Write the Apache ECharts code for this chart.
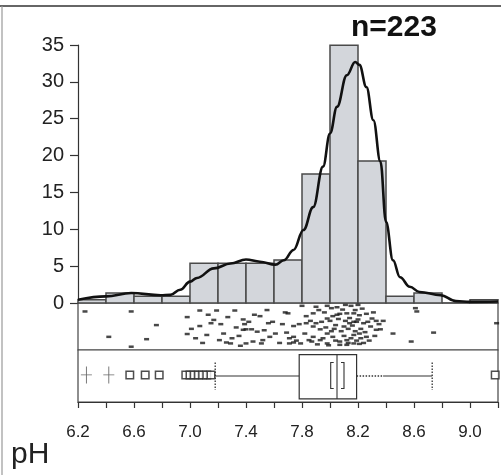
<!DOCTYPE html>
<html>
<head>
<meta charset="utf-8">
<script src="https://cdn.jsdelivr.net/npm/echarts@6/dist/echarts.min.js"></script>
<style>
  html, body { margin: 0; padding: 0; background: #fff; }
  #main { width: 501px; height: 475px; }
</style>
</head>
<body>
<div id="main"></div>
<script>
var FONT = '"Liberation Sans", Arial, sans-serif';

// histogram bins (pH) and percent of samples, n = 223
var binStart = [6.2, 6.4, 6.6, 6.8, 7.0, 7.2, 7.4, 7.6, 7.8, 8.0, 8.2, 8.4, 8.6, 8.8, 9.0];
var binPct   = [0.45, 1.35, 0.9, 0.9, 5.38, 5.38, 5.38, 5.83, 17.49, 34.98, 19.28, 0.9, 1.35, 0, 0.45];
var binWidth = 0.2;

// smooth density curve
var curveX = [6.2, 6.4, 6.58, 6.79, 6.86, 6.93, 7.0, 7.05, 7.17, 7.29, 7.4, 7.5, 7.61, 7.67, 7.74,
              7.81, 7.88, 7.95, 8.0, 8.05, 8.12, 8.18, 8.21, 8.26, 8.31, 8.36, 8.4, 8.45, 8.5,
              8.57, 8.64, 8.79, 8.9, 9.0, 9.2];
var curveY = [0.45, 0.9, 1.35, 1.05, 1.1, 1.8, 2.9, 3.4, 4.7, 5.35, 5.9, 5.6, 5.2, 5.8, 7.2,
              9.9, 13, 18.5, 23, 26.6, 30.9, 32.7, 32.3, 29.3, 24.8, 19.2, 11, 5.8, 3.5,
              2.2, 1.5, 1.05, 0.25, 0.15, 0.2];

// jittered points in the middle strip: pH and vertical jitter (0..1)
var rugX = [6.25, 6.58, 6.42, 6.76, 6.69, 6.58, 6.98, 7.07, 7.19, 7.32, 6.98, 7.04, 7.12, 7.07, 7.15,
            7.17, 7.21, 7.26, 7.29, 7.30, 7.38, 7.39, 7.38, 7.40, 7.44, 7.48, 7.50, 7.56, 7.52, 7.51,
            7.57, 7.40, 7.36, 7.70, 7.74, 7.69, 7.71, 7.71, 7.74, 7.79, 7.80, 7.83, 7.88, 7.90, 7.98,
            8.01, 8.05, 8.11, 8.15, 8.20, 7.90, 7.94, 7.98, 8.02, 8.07, 8.12, 8.17, 8.21, 8.26, 8.30,
            8.33, 8.38, 7.83, 7.88, 7.93, 7.98, 8.04, 8.10, 8.14, 8.19, 8.24, 8.29, 8.33, 7.88, 7.93,
            7.98, 8.02, 8.07, 8.12, 8.17, 8.21, 8.26, 8.17, 8.21, 8.12, 8.07, 7.74, 7.85, 7.87, 8.36,
            8.45, 8.58, 8.61, 8.62, 8.74, 9.19,
            7.92, 7.96, 8.00, 8.03, 8.06, 8.08, 8.09, 8.10, 8.13, 8.14, 8.15, 8.16, 8.18, 8.18, 8.19,
            8.20, 8.22, 8.23, 8.24, 8.25, 8.27, 8.28, 8.31, 8.32, 8.35, 7.95, 7.97, 7.99, 8.01, 8.04,
            7.86, 7.82, 7.78, 7.76, 7.91, 8.11, 8.13, 8.17, 8.22, 8.05,
            7.01, 7.09, 7.13, 7.22, 7.24, 7.27, 7.33, 7.35, 7.42, 7.45, 7.46, 7.53, 7.55, 7.59, 7.61,
            7.64, 7.66, 7.68];
var rugJ = [0.82, 0.82, 0.28, 0.53, 0.23, 0.07, 0.70, 0.84, 0.84, 0.84, 0.34, 0.25, 0.32, 0.51, 0.57,
            0.64, 0.21, 0.16, 0.14, 0.25, 0.65, 0.55, 0.43, 0.44, 0.44, 0.39, 0.72, 0.57, 0.21, 0.14,
            0.28, 0.14, 0.09, 0.78, 0.51, 0.37, 0.25, 0.14, 0.16, 0.14, 0.94, 0.72, 0.78, 0.92, 0.94,
            0.89, 0.91, 0.96, 0.94, 0.96, 0.57, 0.60, 0.67, 0.72, 0.77, 0.78, 0.78, 0.74, 0.77, 0.67,
            0.62, 0.62, 0.57, 0.50, 0.44, 0.35, 0.53, 0.50, 0.57, 0.60, 0.57, 0.50, 0.43, 0.28, 0.21,
            0.14, 0.28, 0.18, 0.21, 0.32, 0.35, 0.28, 0.14, 0.13, 0.11, 0.11, 0.28, 0.21, 0.18, 0.44,
            0.35, 0.18, 0.89, 0.82, 0.37, 0.57,
            0.85, 0.80, 0.62, 0.45, 0.66, 0.40, 0.86, 0.30, 0.45, 0.68, 0.25, 0.52, 0.40, 0.85, 0.20,
            0.65, 0.45, 0.88, 0.15, 0.38, 0.60, 0.20, 0.80, 0.30, 0.55, 0.25, 0.48, 0.10, 0.40, 0.20,
            0.62, 0.35, 0.55, 0.20, 0.12, 0.62, 0.15, 0.60, 0.25, 0.75,
            0.45, 0.15, 0.75, 0.55, 0.35, 0.70, 0.48, 0.30, 0.60, 0.18, 0.75, 0.42, 0.85, 0.60, 0.35,
            0.15, 0.55, 0.80];

// box plot: whisker low, q1, median, q3, whisker high, median bracket
var boxStats = [7.18, 7.78, 8.05, 8.19, 8.73];
var medianBracket = [8.005, 8.10];
var outliers = [6.57, 6.68, 6.78, 6.97, 7.0, 7.03, 7.06, 7.09, 7.12, 7.15, 9.18];
var farOutliers = [6.26, 6.42];

var xTicks = { min: 6.2, max: 9.2, interval: 0.2 };
var yTicks = { min: 0, max: 35, interval: 5 };

var myChart = echarts.init(document.getElementById('main'));

var histData = binStart.map(function (s, i) { return [s, s + binWidth, binPct[i]]; });
var curveData = curveX.map(function (x, i) { return [x, curveY[i]]; });
var rugData = rugX.map(function (x, i) { return [x, rugJ[i]]; });

function xAxisBase(idx, showLabels) {
    return {
        gridIndex: idx, type: 'value',
        min: xTicks.min, max: xTicks.max, interval: xTicks.interval,
        splitLine: { show: false },
        axisLine: { show: showLabels, onZero: false, lineStyle: { color: '#333', width: 1.2 } },
        axisTick: { show: showLabels, length: 6, lineStyle: { color: '#333', width: 1.2 } },
        axisLabel: {
            show: showLabels, interval: 0, margin: 22,
            color: '#222', fontFamily: FONT, fontSize: 17,
            formatter: function (v) {
                var k = Math.round((v - 6.2) * 10);
                return (k % 4 === 0 && v < 9.1) ? v.toFixed(1) : '';
            }
        }
    };
}

option = {
    backgroundColor: '#fff',
    animation: false,
    title: {
        text: 'n=223', left: 346, top: 8,
        textStyle: { fontFamily: FONT, fontSize: 30, fontWeight: 'bold', color: '#111' }
    },
    grid: [
        { left: 78, top: 45, width: 420, height: 258 },
        { left: 78, top: 303, width: 420, height: 47, show: true, borderColor: '#444', borderWidth: 1.2, backgroundColor: '#fff' },
        { left: 78, top: 350, width: 420, height: 52, show: true, borderColor: '#444', borderWidth: 1.2, backgroundColor: '#fff' }
    ],
    xAxis: [xAxisBase(0, false), xAxisBase(1, false), xAxisBase(2, true)],
    yAxis: [
        {
            gridIndex: 0, type: 'value', min: yTicks.min, max: yTicks.max, interval: yTicks.interval,
            splitLine: { show: false },
            axisLine: { show: true, lineStyle: { color: '#333', width: 1.2 } },
            axisTick: { show: true, length: 8, lineStyle: { color: '#333', width: 1.2 } },
            axisLabel: { margin: 14, color: '#222', fontFamily: FONT, fontSize: 20 }
        },
        { gridIndex: 1, type: 'value', min: 0, max: 1, show: false },
        { gridIndex: 2, type: 'value', min: 0, max: 1, show: false }
    ],
    series: [
        {
            type: 'custom', xAxisIndex: 0, yAxisIndex: 0, data: histData, z: 2,
            renderItem: function (params, api) {
                var p0 = api.coord([api.value(0), api.value(2)]);
                var p1 = api.coord([api.value(1), 0]);
                return {
                    type: 'rect',
                    shape: { x: p0[0], y: p0[1], width: p1[0] - p0[0], height: p1[1] - p0[1] },
                    style: { fill: '#d3d6db', stroke: '#4a4a4a', lineWidth: 1.5 }
                };
            }
        },
        {
            type: 'line', xAxisIndex: 0, yAxisIndex: 0, data: curveData, z: 3,
            smooth: 0.4, smoothMonotone: 'x', showSymbol: false,
            lineStyle: { color: '#111', width: 2.6 }
        },
        {
            type: 'scatter', xAxisIndex: 1, yAxisIndex: 1, data: rugData,
            symbol: 'rect', symbolSize: [5, 2.5],
            itemStyle: { color: '#1a1a1a' }
        },
        {
            type: 'custom', xAxisIndex: 2, yAxisIndex: 2, data: [boxStats.concat(medianBracket)], z: 3,
            renderItem: function (params, api) {
                var v = [0, 1, 2, 3, 4, 5, 6].map(function (i) { return api.value(i); });
                var lo = api.coord([v[0], 0.5]), q1 = api.coord([v[1], 0.5]), md = api.coord([v[2], 0.5]);
                var q3 = api.coord([v[3], 0.5]), hi = api.coord([v[4], 0.5]);
                var bTop = api.coord([v[1], 0.91])[1], bBot = api.coord([v[1], 0.06])[1];
                var cTop = api.coord([v[0], 0.76])[1], cBot = api.coord([v[0], 0.23])[1];
                var kTop = api.coord([v[5], 0.76])[1], kBot = api.coord([v[5], 0.26])[1];
                var k0 = api.coord([v[5], 0.5])[0], k1 = api.coord([v[6], 0.5])[0];
                var y = lo[1];
                var s = { stroke: '#333', lineWidth: 1.1, fill: null };
                var dot = { stroke: '#333', lineWidth: 1.3, lineDash: [1.5, 1.5], fill: null };
                var mid = q3[0] + (hi[0] - q3[0]) * 0.35;
                return {
                    type: 'group',
                    children: [
                        { type: 'line', shape: { x1: lo[0], y1: y, x2: q1[0], y2: y }, style: s },
                        { type: 'line', shape: { x1: q3[0], y1: y, x2: mid, y2: y }, style: dot },
                        { type: 'line', shape: { x1: mid, y1: y, x2: hi[0], y2: y }, style: s },
                        { type: 'line', shape: { x1: lo[0], y1: cTop, x2: lo[0], y2: cBot }, style: dot },
                        { type: 'line', shape: { x1: hi[0], y1: cTop, x2: hi[0], y2: cBot }, style: dot },
                        { type: 'rect', shape: { x: q1[0], y: bTop, width: q3[0] - q1[0], height: bBot - bTop },
                          style: { stroke: '#333', lineWidth: 1.2, fill: '#fff' } },
                        { type: 'line', shape: { x1: md[0], y1: bTop, x2: md[0], y2: bBot }, style: s },
                        { type: 'polyline', shape: { points: [[k0 + 3, kTop], [k0, kTop], [k0, kBot], [k0 + 3, kBot]] }, style: s },
                        { type: 'polyline', shape: { points: [[k1 - 3, kTop], [k1, kTop], [k1, kBot], [k1 - 3, kBot]] }, style: s }
                    ]
                };
            }
        },
        {
            type: 'scatter', xAxisIndex: 2, yAxisIndex: 2, z: 4,
            data: outliers.map(function (x) { return [x, 0.52]; }),
            symbol: 'rect', symbolSize: 7.5,
            itemStyle: { color: '#fff', borderColor: '#222', borderWidth: 1.5 }
        },
        {
            type: 'scatter', xAxisIndex: 2, yAxisIndex: 2, z: 4,
            data: farOutliers.map(function (x) { return [x, 0.52]; }),
            symbol: 'path://M4.6,0h0.8v8.6h4.6v0.8h-4.6v8.6h-0.8v-8.6h-4.6v-0.8h4.6z',
            symbolSize: [11, 17],
            itemStyle: { color: '#444' }
        }
    ],
    graphic: [
        { type: 'line', shape: { x1: 0, y1: 6, x2: 501, y2: 6 }, style: { stroke: '#333', lineWidth: 1.5 } },
        { type: 'line', shape: { x1: 2, y1: 6, x2: 2, y2: 475 }, style: { stroke: '#999', lineWidth: 1.2 } },
        { type: 'text', left: 11, top: 440, style: { text: 'pH', fontFamily: FONT, fontSize: 30, fill: '#222' } }
    ]
};

myChart.setOption(option);
</script>
</body>
</html>
